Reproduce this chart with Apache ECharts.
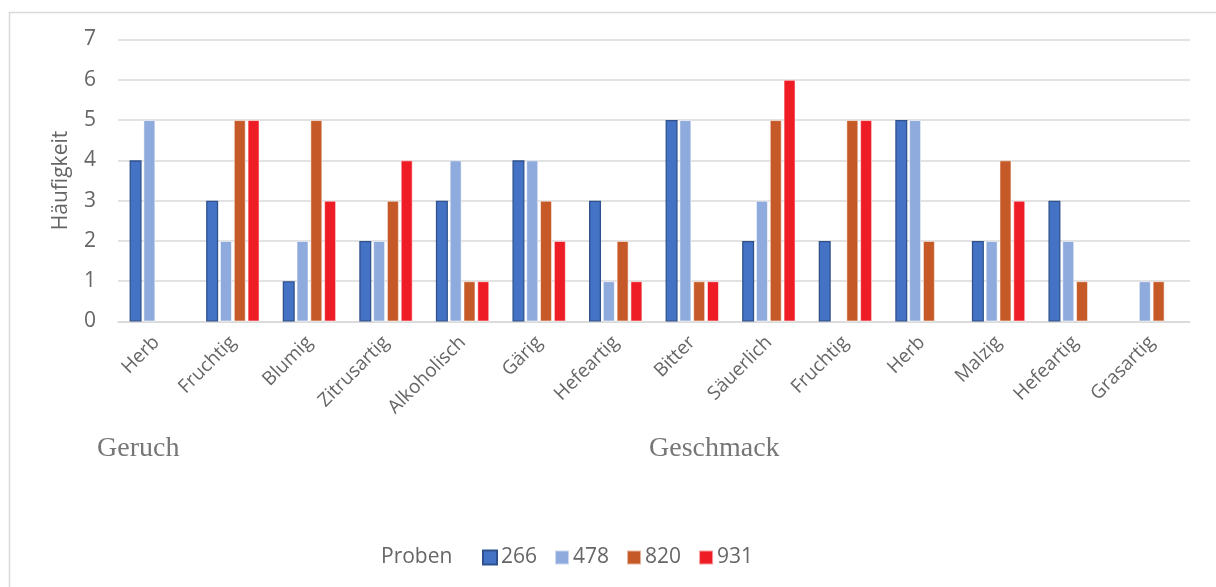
<!DOCTYPE html>
<html>
<head>
<meta charset="utf-8">
<style>
html,body{margin:0;padding:0;background:#fff;}
#chart{width:1216px;height:587px;}
</style>
<script src="https://cdn.jsdelivr.net/npm/echarts@6/dist/echarts.min.js"></script>
</head>
<body>
<div id="chart"></div>
<script>
const categories = ['Herb','Fruchtig','Blumig','Zitrusartig','Alkoholisch','Gärig','Hefeartig','Bitter','Säuerlich','Fruchtig','Herb','Malzig','Hefeartig','Grasartig'];
const seriesNames = ['266','478','820','931'];
const s266 = [4, 3, 1, 2, 3, 4, 3, 5, 2, 2, 5, 2, 3, null];
const s478 = [5, 2, 2, 2, 4, 4, 1, 5, 3, null, 5, 2, 2, 1];
const s820 = [null, 5, 5, 3, 1, 3, 2, 1, 5, 5, 2, 4, 1, 1];
const s931 = [null, 5, 3, 4, 1, 2, 1, 1, 6, 5, null, 3, null, null];
const yTicks = [0,1,2,3,4,5,6,7];
const groupLabels = ['Geruch','Geschmack'];
const legendTitle = 'Proben';
const yTitle = 'Häufigkeit';

const colors = ['#4472C4','#8FAADC','#C55A28','#EE1D25'];
const borders = ['#2F528F','rgba(255,255,255,0.55)','rgba(255,255,255,0.55)','rgba(255,255,255,0.55)'];
const values = [s266, s478, s820, s931];

const chart = echarts.init(document.getElementById('chart'), null, {renderer:'canvas'});
const font = '"Open Sans", "Noto Sans", sans-serif';
const textColor = '#666666';

chart.setOption({
  animation: false,
  textStyle: {fontFamily: font},
  grid: {left: 118, right: 26, top: 39.5, bottom: 265.5, containLabel: false},
  legend: {
    left: 482, top: 547, padding: 0,
    itemWidth: 14, itemHeight: 14, itemGap: 17,
    icon: 'rect',
    textStyle: {fontSize: 21, color: textColor, fontFamily: font, padding: [0,0,0,-1]},
    data: seriesNames
  },
  xAxis: {
    type: 'category',
    data: categories,
    axisLine: {show: true, lineStyle: {color: '#D9D9D9', width: 1.5}},
    axisTick: {show: false},
    axisLabel: {rotate: 45, interval: 0, fontSize: 19, color: textColor, margin: 18, fontFamily: font}
  },
  yAxis: {
    type: 'value',
    min: yTicks[0], max: yTicks[yTicks.length-1], interval: 1,
    name: yTitle, nameLocation: 'middle', nameGap: 46,
    nameTextStyle: {fontSize: 21, color: textColor, fontFamily: font},
    axisLine: {show: false},
    axisTick: {show: false},
    axisLabel: {fontSize: 21, color: textColor, margin: 22, fontFamily: font},
    splitLine: {lineStyle: {color: '#D9D9D9', width: 1.5}}
  },
  series: seriesNames.map((n, i) => ({
    name: n,
    type: 'bar',
    data: values[i],
    barWidth: 12,
    barGap: '15%',
    itemStyle: {color: colors[i], borderColor: borders[i], borderWidth: i === 0 ? 1.3 : 1}
  })),
  graphic: [
    {type: 'rect', shape: {x: 9.5, y: 12.5, width: 1230, height: 600}, style: {fill: null, stroke: '#D9D9D9', lineWidth: 1.5}, silent: true, z: -1},
    {type: 'text', left: 97, top: 435, style: {text: groupLabels[0], font: '28px "Liberation Serif", serif', fill: '#767676'}},
    {type: 'text', left: 649, top: 435, style: {text: groupLabels[1], font: '28px "Liberation Serif", serif', fill: '#767676'}},
    {type: 'text', left: 381, top: 547, style: {text: legendTitle, font: '21px "Open Sans", "Noto Sans", sans-serif', fill: textColor}}
  ]
});
</script>
</body>
</html>
